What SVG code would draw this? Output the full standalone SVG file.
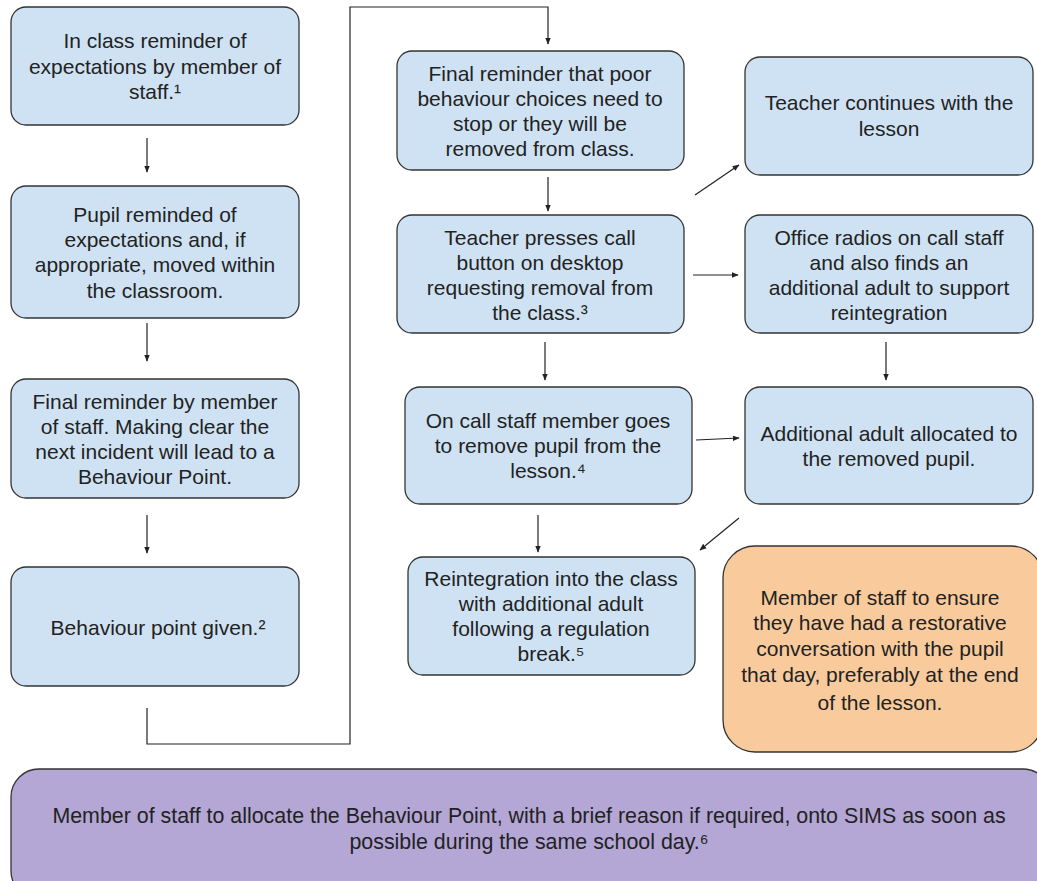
<svg xmlns="http://www.w3.org/2000/svg" width="1037" height="881" viewBox="0 0 1037 881">
<style>
.b{fill:#cfe2f3;stroke:#333;stroke-width:1.3}
.o{fill:#f9cb9c;stroke:#333;stroke-width:1.3}
.p{fill:#b4a7d6;stroke:#333;stroke-width:1.3}
text{font-family:"Liberation Sans",Arial,sans-serif;font-size:21px;fill:#222;text-anchor:middle}
.big{font-size:21.4px}
.c{fill:none;stroke:#222;stroke-width:1.2}
</style>
<defs>
<marker id="ah" viewBox="0 0 10 10" refX="9" refY="5" markerWidth="7" markerHeight="7" orient="auto" markerUnits="userSpaceOnUse">
<path d="M0,1 L10,5 L0,9 z" fill="#222"/>
</marker>
</defs>
<rect width="1037" height="881" fill="#fff"/>
<g id="connectors">
<path class="c" d="M147,138 V172" marker-end="url(#ah)"/>
<path class="c" d="M147,323 V361" marker-end="url(#ah)"/>
<path class="c" d="M147,515 V553" marker-end="url(#ah)"/>
<path class="c" d="M147,708 V744 H350 V7 H548 V44" marker-end="url(#ah)"/>
<path class="c" d="M548,177 V211" marker-end="url(#ah)"/>
<path class="c" d="M695,195 L739,165" marker-end="url(#ah)"/>
<path class="c" d="M693,275 H738" marker-end="url(#ah)"/>
<path class="c" d="M545,342 V380" marker-end="url(#ah)"/>
<path class="c" d="M886,342 V380" marker-end="url(#ah)"/>
<path class="c" d="M696,440 L739,438" marker-end="url(#ah)"/>
<path class="c" d="M538,515 V552" marker-end="url(#ah)"/>
<path class="c" d="M739,518 L700,550" marker-end="url(#ah)"/>
</g>
<g id="n1"><rect class="b" x="11" y="7" width="288" height="118" rx="15"/>
<text x="155" y="48">In class reminder of</text><text x="155" y="74">expectations by member of</text><text x="155" y="99">staff.¹</text></g>
<g id="n2"><rect class="b" x="11" y="186" width="288" height="132" rx="15"/>
<text x="155" y="222">Pupil reminded of</text><text x="155" y="247">expectations and, if</text><text x="155" y="272">appropriate, moved within</text><text x="155" y="298">the classroom.</text></g>
<g id="n3"><rect class="b" x="11" y="379" width="288" height="119" rx="15"/>
<text x="155" y="409">Final reminder by member</text><text x="155" y="434">of staff. Making clear the</text><text x="155" y="459">next incident will lead to a</text><text x="155" y="484">Behaviour Point.</text></g>
<g id="n4"><rect class="b" x="11" y="567" width="288" height="119" rx="15"/>
<text x="158" y="635">Behaviour point given.²</text></g>
<g id="n5"><rect class="b" x="397" y="51" width="287" height="119" rx="15"/>
<text x="540" y="81">Final reminder that poor</text><text x="540" y="106">behaviour choices need to</text><text x="540" y="131">stop or they will be</text><text x="540" y="156">removed from class.</text></g>
<g id="n6"><rect class="b" x="397" y="215" width="287" height="118" rx="15"/>
<text x="540" y="245">Teacher presses call</text><text x="540" y="270">button on desktop</text><text x="540" y="295">requesting removal from</text><text x="540" y="320">the class.³</text></g>
<g id="n7"><rect class="b" x="745" y="57" width="288" height="118" rx="15"/>
<text x="889" y="110">Teacher continues with the</text><text x="889" y="136">lesson</text></g>
<g id="n8"><rect class="b" x="745" y="215" width="288" height="118" rx="15"/>
<text x="889" y="245">Office radios on call staff</text><text x="889" y="270">and also finds an</text><text x="889" y="295">additional adult to support</text><text x="889" y="320">reintegration</text></g>
<g id="n9"><rect class="b" x="405" y="387" width="287" height="117" rx="15"/>
<text x="548" y="428">On call staff member goes</text><text x="548" y="453">to remove pupil from the</text><text x="548" y="478">lesson.⁴</text></g>
<g id="n10"><rect class="b" x="745" y="387" width="288" height="117" rx="15"/>
<text x="889" y="441">Additional adult allocated to</text><text x="889" y="466">the removed pupil.</text></g>
<g id="n11"><rect class="b" x="408" y="557" width="287" height="118" rx="15"/>
<text x="551" y="586">Reintegration into the class</text><text x="551" y="611">with additional adult</text><text x="551" y="636">following a regulation</text><text x="551" y="661">break.⁵</text></g>
<g id="n12"><rect class="o" x="723" y="546" width="320" height="206" rx="32"/>
<text x="880" y="605">Member of staff to ensure</text><text x="880" y="630">they have had a restorative</text><text x="880" y="656">conversation with the pupil</text><text x="880" y="682">that day, preferably at the end</text><text x="880" y="710">of the lesson.</text></g>
<g id="n13"><rect class="p" x="11" y="769" width="1040" height="130" rx="28"/>
<text class="big" x="529" y="823">Member of staff to allocate the Behaviour Point, with a brief reason if required, onto SIMS as soon as</text><text class="big" x="529" y="849">possible during the same school day.⁶</text></g>
</svg>
